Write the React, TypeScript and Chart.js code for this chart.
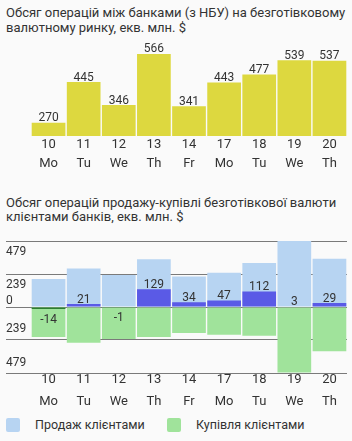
import React, { useEffect, useRef } from 'react';
import { Chart, registerables } from 'chart.js';

Chart.register(...registerables);
Chart.defaults.font.family = 'Roboto';

const days = ['10', '11', '12', '13', '14', '17', '18', '19', '20'];
const weekdays = ['Mo', 'Tu', 'We', 'Th', 'Fr', 'Mo', 'Tu', 'We', 'Th'];
const interbank = [270, 445, 346, 566, 341, 443, 477, 539, 537];
const sales = [203, 280, 232, 346, 222, 248, 320, 479, 350];
const purchases = [217, 259, 233, 217, 188, 201, 208, 476, 321];
const net = [-14, 21, -1, 129, 34, 47, 112, 3, 29];
const yTicks = [479, 239, 0, -239, -479];
const title1 = ['Обсяг операцій між банками (з НБУ) на безготівковому', 'валютному ринку, екв. млн. $'];
const title2 = ['Обсяг операцій продажу-купівлі безготівкової валюти', 'клієнтами банків, екв. млн. $'];
const legendLabels = ['Продаж клієнтами', 'Купівля клієнтами'];

const YELLOW = '#ddd83f';
const LIGHT_BLUE = '#b7d4f2';
const GREEN = '#a0e39b';
const DARK_BLUE = '#5a5ae6';
const DARK_GREEN = '#2e7d32';
const GRID = '#7a7a7a';
const TEXT = '#333333';
const BG = '#fafafa';

const xLabels = days.map((d, i) => [d, weekdays[i]]);

const topValueLabels = {
  id: 'topValueLabels',
  afterDatasetsDraw(chart: any) {
    const ctx = chart.ctx;
    const meta = chart.getDatasetMeta(0);
    ctx.save();
    ctx.font = '12px Roboto';
    ctx.fillStyle = TEXT;
    ctx.textAlign = 'center';
    ctx.textBaseline = 'alphabetic';
    meta.data.forEach((bar: any, i: number) => {
      ctx.fillText(String(interbank[i]), bar.x, bar.y - 1.5);
    });
    ctx.restore();
  },
};

const bottomLabels = {
  id: 'bottomLabels',
  afterDatasetsDraw(chart: any) {
    const ctx = chart.ctx;
    const xs = chart.scales.x;
    const ys = chart.scales.y;
    ctx.save();
    ctx.font = '12px Roboto';
    ctx.fillStyle = TEXT;
    ctx.textAlign = 'center';
    ctx.textBaseline = 'alphabetic';
    net.forEach((v, i) => {
      const x = xs.getPixelForValue(i);
      const y = ys.getPixelForValue(v);
      ctx.fillText(String(v), x, v >= 0 ? y - 1.5 : y + 14);
    });
    ctx.textAlign = 'left';
    ctx.textBaseline = 'middle';
    const left = chart.chartArea.left - 25;
    yTicks.forEach((v) => {
      const y = ys.getPixelForValue(v);
      const off = v > 0 ? 10.5 : v === 0 ? -6 : -10.5;
      ctx.fillText(String(Math.abs(v)), left, y + off);
    });
    ctx.restore();
  },
};

function TopChart() {
  const ref = useRef<HTMLCanvasElement>(null);
  useEffect(() => {
    const chart = new Chart(ref.current as HTMLCanvasElement, {
      type: 'bar',
      data: {
        labels: xLabels,
        datasets: [
          {
            data: interbank,
            backgroundColor: YELLOW,
            barPercentage: 0.96,
            categoryPercentage: 1,
          },
        ],
      },
      options: {
        animation: false,
        responsive: false,
        devicePixelRatio: 1,
        layout: { padding: { top: 6, left: 31, right: 5, bottom: 3 } },
        plugins: { legend: { display: false }, tooltip: { enabled: false } },
        scales: {
          x: {
            grid: { display: false, drawTicks: false },
            border: { display: false },
            ticks: {
              color: TEXT,
              font: { size: 13, lineHeight: '19px' },
              padding: -1,
              maxRotation: 0,
              autoSkip: false,
            },
          },
          y: { display: false, min: 213, max: 600 },
        },
      },
      plugins: [topValueLabels],
    } as any);
    return () => chart.destroy();
  }, []);
  return <canvas ref={ref} width={352} height={135} style={{ position: 'absolute', left: 0, top: 40 }} />;
}

function BottomChart() {
  const ref = useRef<HTMLCanvasElement>(null);
  useEffect(() => {
    const common = { barPercentage: 0.96, categoryPercentage: 1, grouped: false };
    const chart = new Chart(ref.current as HTMLCanvasElement, {
      type: 'bar',
      data: {
        labels: xLabels,
        datasets: [
          { ...common, data: net.map((v) => (v > 0 ? v : null)), backgroundColor: DARK_BLUE, order: 0 },
          { ...common, data: net.map((v) => (v < 0 ? v : null)), backgroundColor: DARK_GREEN, order: 0 },
          { ...common, label: legendLabels[0], data: sales, backgroundColor: LIGHT_BLUE, order: 1 },
          { ...common, label: legendLabels[1], data: purchases.map((v) => -v), backgroundColor: GREEN, order: 1 },
        ],
      },
      options: {
        animation: false,
        responsive: false,
        devicePixelRatio: 1,
        layout: { padding: { top: 9, left: 6, right: 5, bottom: 3 } },
        plugins: { legend: { display: false }, tooltip: { enabled: false } },
        scales: {
          x: {
            grid: { display: false, drawTicks: false },
            border: { display: false },
            ticks: {
              color: TEXT,
              font: { size: 13, lineHeight: '22px' },
              padding: -4,
              maxRotation: 0,
              autoSkip: false,
            },
          },
          y: {
            min: -479,
            max: 479,
            afterBuildTicks: (s: any) => {
              s.ticks = yTicks.map((v) => ({ value: v }));
            },
            ticks: { display: false },
            border: { display: false },
            grid: { color: GRID, lineWidth: 1, drawTicks: true, tickLength: 25, tickColor: GRID },
          },
        },
      },
      plugins: [bottomLabels],
    } as any);
    return () => chart.destroy();
  }, []);
  return <canvas ref={ref} width={352} height={180} style={{ position: 'absolute', left: 0, top: 232 }} />;
}

function Title({ lines, top }: { lines: string[]; top: number }) {
  return (
    <div
      style={{
        position: 'absolute',
        left: 6,
        top,
        font: '13px Roboto',
        lineHeight: '14.5px',
        color: TEXT,
        whiteSpace: 'nowrap',
      }}
    >
      {lines.map((l, i) => (
        <div key={i}>{l}</div>
      ))}
    </div>
  );
}

export default function App() {
  const legendColors = [LIGHT_BLUE, GREEN];
  const legendLefts = [6, 167];
  return (
    <div
      style={{
        position: 'absolute',
        left: 0,
        top: 0,
        width: 352,
        height: 441,
        background: BG,
        overflow: 'hidden',
      }}
    >
      <Title lines={title1} top={6} />
      <TopChart />
      <Title lines={title2} top={195.5} />
      <BottomChart />
      {legendLabels.map((l, i) => (
        <div
          key={i}
          style={{
            position: 'absolute',
            left: legendLefts[i],
            top: 417.5,
            display: 'flex',
            alignItems: 'center',
            font: '12.5px Roboto',
            lineHeight: '14px',
            color: TEXT,
            whiteSpace: 'nowrap',
          }}
        >
          <span
            style={{ width: 14, height: 14, borderRadius: 2, background: legendColors[i], display: 'inline-block' }}
          />
          <span style={{ marginLeft: 15 }}>{l}</span>
        </div>
      ))}
    </div>
  );
}
